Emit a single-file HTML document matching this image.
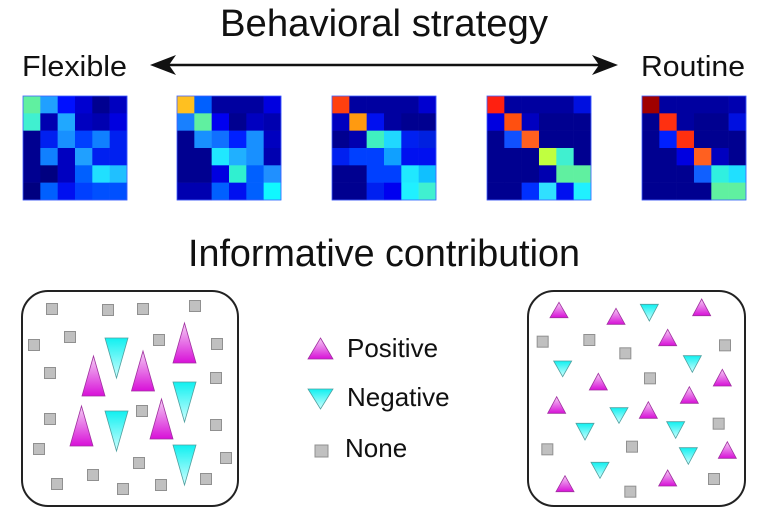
<!DOCTYPE html>
<html><head><meta charset="utf-8"><style>html,body{margin:0;padding:0;background:#fff}svg{display:block}text{font-family:"Liberation Sans",Arial,sans-serif;fill:#111}</style></head><body>
<svg width="767" height="513" viewBox="0 0 767 513" xmlns="http://www.w3.org/2000/svg">
<defs>
<linearGradient id="mg" x1="0" y1="0" x2="0" y2="1"><stop offset="0" stop-color="#f4d0f4"/><stop offset="1" stop-color="#d810d8"/></linearGradient>
<linearGradient id="cg" x1="0" y1="0" x2="0" y2="1"><stop offset="0" stop-color="#10f0f0"/><stop offset="1" stop-color="#d0ffff"/></linearGradient>
</defs>
<text x="384" y="36" font-size="38" text-anchor="middle" textLength="328" lengthAdjust="spacingAndGlyphs">Behavioral strategy</text>
<text x="22" y="76" font-size="29" textLength="105" lengthAdjust="spacingAndGlyphs">Flexible</text>
<text x="641" y="76" font-size="29" textLength="104" lengthAdjust="spacingAndGlyphs">Routine</text>
<line x1="160" y1="65" x2="608" y2="65" stroke="#111" stroke-width="2.5"/>
<polygon points="150,65 176,55 169,65 176,75" fill="#111"/>
<polygon points="618,65 592,55 599,65 592,75" fill="#111"/>
<g id="mats"></g>
<text x="188" y="266" font-size="38" textLength="392" lengthAdjust="spacingAndGlyphs">Informative contribution</text>
<rect x="22" y="291" width="216" height="215" rx="26" fill="#fff" stroke="#222" stroke-width="2"/>
<rect x="528" y="291" width="217" height="215" rx="26" fill="#fff" stroke="#222" stroke-width="2"/>
<g id="shapes"></g>
<polygon points="320.5,338 333,359 308,359" fill="url(#mg)" stroke="#a030a0" stroke-width="0.8"/>
<polygon points="308,389 333,389 320.5,409" fill="url(#cg)" stroke="#50a0a0" stroke-width="0.8"/>
<rect x="315" y="445" width="13" height="12" fill="#c0c0c0" stroke="#909090"/>
<text x="347" y="357" font-size="26">Positive</text>
<text x="347" y="406" font-size="26">Negative</text>
<text x="345" y="457" font-size="26">None</text>
</svg>
<script>
var M=[
[["#60f0a0","#20a0ff","#0010ff","#0000d0","#000090","#0000c0"],["#40f0d0","#0000b0","#20a8ff","#0000c0","#0000b0","#0000e0"],["#000090","#0020f0","#1890ff","#0040ff","#1080ff","#0020f0"],["#000090","#1080ff","#0000c0","#20a0ff","#0020f0","#0020f0"],["#000090","#000080","#0000c0","#0060ff","#20e0ff","#20c0ff"],["#000080","#0060ff","#0010f0","#0040ff","#0050ff","#0050ff"]],
[["#ffc020","#0060ff","#0000a0","#0000a0","#0000a0","#0000e0"],["#1880ff","#60f0a0","#0000f0","#000090","#0000c0","#0000b0"],["#000090","#1890ff","#1070ff","#0020ff","#1890ff","#0000c0"],["#000090","#000090","#20e8ff","#20b0ff","#1890ff","#0000b0"],["#000090","#000090","#0000e0","#30f0d0","#0060ff","#2090ff"],["#0000b0","#0000b0","#0060ff","#0010f0","#0060ff","#10f8ff"]],
[["#ff4010","#0000a0","#0000a0","#0000a0","#0000a0","#0000d0"],["#0000c0","#ff9a10","#0010f0","#0000a0","#000090","#000090"],["#000090","#0000b0","#40f0c0","#20d8ff","#0020f0","#0020e0"],["#0020f0","#0040ff","#0040ff","#10a0ff","#0010f0","#0010f0"],["#000090","#000090","#0040ff","#0040ff","#20e8ff","#10c0ff"],["#000090","#000090","#0020f0","#0000f0","#20f0ff","#40f0d0"]],
[["#ff2010","#0000a0","#0000a0","#0000a0","#0000a0","#0010e0"],["#0000e0","#ff5010","#0000c0","#000090","#000090","#000090"],["#000090","#1050ff","#ff6020","#000090","#000090","#000090"],["#000090","#000090","#000090","#c0ff40","#40f0d0","#000090"],["#000090","#000090","#000090","#0000b0","#60f0a0","#60f0a0"],["#000090","#000090","#0030ff","#30e0ff","#0010f0","#20f0ff"]],
[["#a00000","#0000a0","#0000a0","#0000a0","#0000a0","#0000b0"],["#000090","#ff3010","#0000a0","#000090","#000090","#0010e0"],["#000090","#0020ff","#ff3010","#000090","#000090","#000090"],["#000090","#000090","#0000e0","#ff6020","#0000c0","#000090"],["#000090","#000090","#000090","#1060ff","#30f0e0","#20e0ff"],["#000090","#000090","#000090","#000090","#60f0a0","#60f0a0"]]];
var X=[23,177,332,487,642],s="",c=17.33;
M.forEach(function(m,k){m.forEach(function(r,i){r.forEach(function(col,j){s+='<rect x="'+(X[k]+j*c).toFixed(2)+'" y="'+(96+i*c).toFixed(2)+'" width="'+(c+0.3)+'" height="'+(c+0.3)+'" fill="'+col+'"/>';});});s+='<rect x="'+X[k]+'" y="96" width="104" height="104" fill="none" stroke="#4060ff" stroke-width="0.8"/>';});
document.getElementById("mats").innerHTML=s;
var t="";
function sq(x,y){t+='<rect x="'+(x-5.5)+'" y="'+(y-5.5)+'" width="11" height="11" fill="#c0c0c0" stroke="#909090" stroke-width="1"/>';}
function up(cx,ay,by,hw){t+='<polygon points="'+cx+','+ay+' '+(cx+hw)+','+by+' '+(cx-hw)+','+by+'" fill="url(#mg)" stroke="#a030a0" stroke-width="0.8"/>';}
function dn(cx,ty,ay,hw){t+='<polygon points="'+(cx-hw)+','+ty+' '+(cx+hw)+','+ty+' '+cx+','+ay+'" fill="url(#cg)" stroke="#50a0a0" stroke-width="0.8"/>';}
[[52,309],[108,310],[143,309],[195,306],[70,337],[34,345],[159,340],[217,344],[50,373],[216,378],[142,411],[50,419],[216,425],[39,449],[139,463],[226,458],[93,475],[57,484],[123,489],[161,485],[206,479]].forEach(function(p){sq(p[0],p[1]);});
up(184.5,323,363,11.5);up(93.5,356,396,11.5);up(143,351,391,11.5);up(81.5,406,446,11.5);up(161.5,399,439,11.5);
dn(116.5,338,378,11.5);dn(184.5,382,422,11.5);dn(116.5,411,451,11.5);dn(184.5,445,485,11.5);
var ox=520,oy=285;
[[117,52,98],[288,70,118],[545,42,92],[443,133,182],[235,265,315],[607,253,303],[508,305,355],[110,335,385],[385,350,400],[622,470,520],[135,572,620],[443,555,603]].forEach(function(p){up(ox+p[0]/3,oy+p[1]/3,oy+p[2]/3,9);});
[[388,58,108],[128,228,275],[517,212,262],[297,368,415],[195,415,465],[467,410,460],[505,488,538],[240,532,580]].forEach(function(p){dn(ox+p[0]/3,oy+p[1]/3,oy+p[2]/3,9);});
[[68,170],[208,165],[316,205],[615,181],[390,280],[596,416],[82,493],[336,485],[582,582],[331,620]].forEach(function(p){sq(ox+p[0]/3,oy+p[1]/3);});
document.getElementById("shapes").innerHTML=t;
</script>
</body></html>
